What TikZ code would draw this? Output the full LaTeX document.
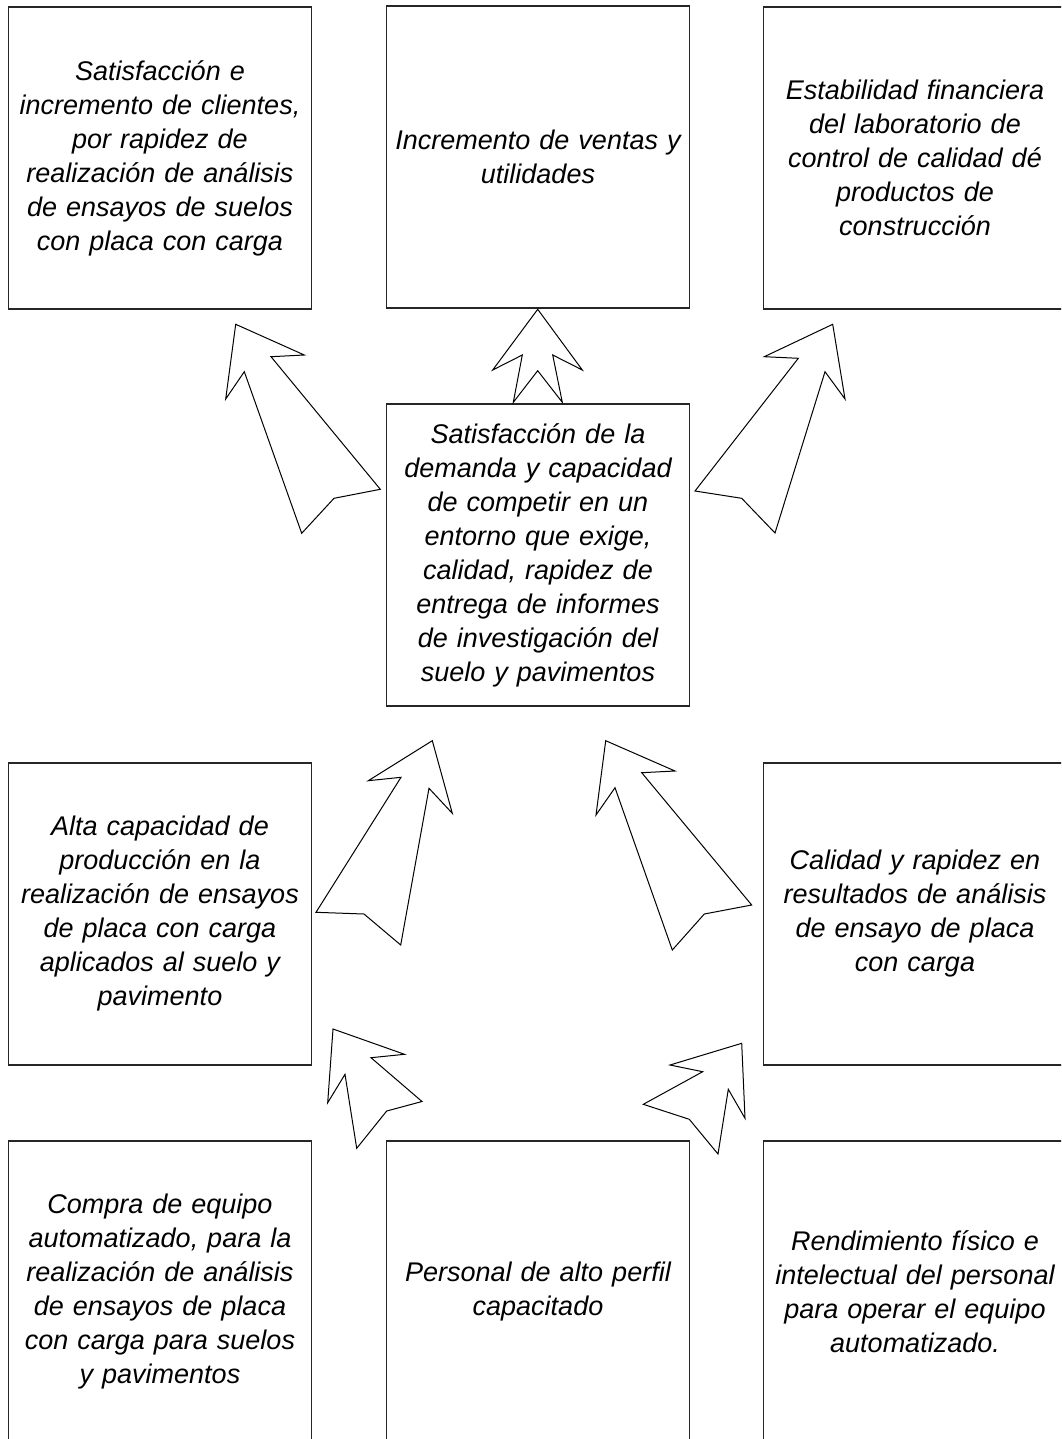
\documentclass[tikz,border=0pt]{standalone}
\usepackage{fontspec}
\setmainfont{Liberation Sans}
\begin{document}
\begin{tikzpicture}[x=1pt,y=-1pt,
  box/.style={draw=black!85, line width=1.3pt, fill=white, minimum width=303pt,
    minimum height=302pt, inner sep=4pt, align=center, text width=290pt,
    font=\fontsize{27}{34}\selectfont\itshape},
  blockarrow/.style={draw=black, line width=1pt, fill=white, line join=miter}]
\useasboundingbox (0,0) rectangle (1061,1439);
\clip (0,0) rectangle (1061,1439);

% top row
\node[box] (b1) at (160,158) {Satisfacción e\\incremento de clientes,\\por rapidez de\\realización de análisis\\de ensayos de suelos\\con placa con carga};
\node[box] (b2) at (538,157) {Incremento de ventas y\\utilidades};
\node[box] (b3) at (915,158) {Estabilidad financiera\\del laboratorio de\\control de calidad dé\\productos de\\construcción};

% centre
\node[box] (mid) at (538,555) {Satisfacción de la\\demanda y capacidad\\de competir en un\\entorno que exige,\\calidad, rapidez de\\entrega de informes\\de investigación del\\suelo y pavimentos};

% middle row
\node[box] (ml) at (160,914) {Alta capacidad de\\producción en la\\realización de ensayos\\de placa con carga\\aplicados al suelo y\\pavimento};
\node[box] (mr) at (915,914) {Calidad y rapidez en\\resultados de análisis\\de ensayo de placa\\con carga};

% bottom row
\node[box] (bl) at (160,1292) {Compra de equipo\\automatizado, para la\\realización de análisis\\de ensayos de placa\\con carga para suelos\\y pavimentos};
\node[box] (bm) at (538,1292) {Personal de alto perfil\\capacitado};
\node[box] (br) at (915,1292) {Rendimiento físico e\\intelectual del personal\\para operar el equipo\\automatizado.};

% block arrows from the centre box to the top row
\draw[blockarrow] (235.7,324.3) -- (304.3,355) -- (271,356.7) -- (380.3,489.3) -- (334,498.3)
  -- (301.7,533.3) -- (244.3,371.7) -- (225.7,399) -- cycle;
\draw[blockarrow] (537.7,309.3) -- (582.3,370) -- (552.7,355) -- (562.3,402.3) -- (537.7,370.7)
  -- (513.3,402.3) -- (522.3,355) -- (492.7,370) -- cycle;
\draw[blockarrow] (832.7,324.3) -- (764.3,356.7) -- (798.3,358.3) -- (695,491) -- (741.7,498.3)
  -- (775,533) -- (825,371.7) -- (845,399) -- cycle;

% block arrows from the middle row to the centre box
\draw[blockarrow] (432.3,740.7) -- (368.3,780.7) -- (401,777.3) -- (316,912.3) -- (364,914)
  -- (400.7,945) -- (429,788.3) -- (452.3,813.3) -- cycle;
\draw[blockarrow] (605.7,740.7) -- (675,771) -- (641.7,772.7) -- (751.7,905) -- (704.3,914)
  -- (672.3,950) -- (615,787.7) -- (596,815) -- cycle;

% block arrows from the bottom row to the middle row
\draw[blockarrow] (333,1029) -- (404.5,1054.3) -- (371,1057.7) -- (422,1101.5) -- (386.7,1111)
  -- (356.7,1148.3) -- (345,1074.3) -- (327.7,1102.7) -- cycle;
\draw[blockarrow] (741.7,1043.3) -- (670,1065) -- (702.7,1071.7) -- (643.3,1104.3) -- (689.3,1119.3)
  -- (718,1154) -- (728.3,1089.3) -- (745,1118.3) -- cycle;
\end{tikzpicture}
\end{document}
